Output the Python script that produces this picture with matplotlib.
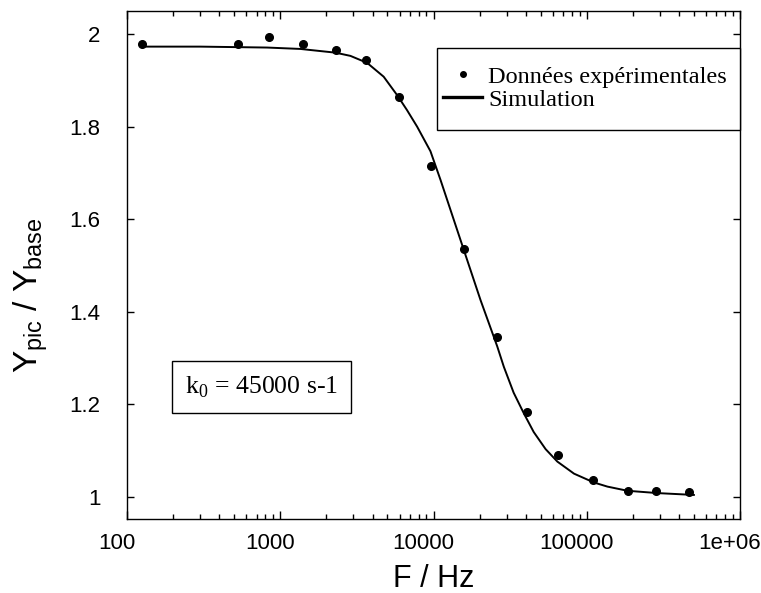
#!/usr/bin/env python3
"""Peak/base ratio versus frequency, measured points and simulated curve."""

import matplotlib
matplotlib.use("Agg")
import matplotlib.pyplot as plt
import matplotlib.transforms as mtransforms
from matplotlib.lines import Line2D
from matplotlib.patches import Rectangle
from matplotlib.ticker import LogLocator, FixedLocator, FuncFormatter

# measured points (F in Hz, Ypic / Ybase)
freq_exp = [125, 528, 843, 1400, 2320, 3630, 5930, 9660, 15800, 25800,
            40900, 64600, 110600, 184500, 283600, 464000]
ratio_exp = [1.978, 1.978, 1.993, 1.978, 1.966, 1.944, 1.865, 1.715, 1.536,
             1.346, 1.184, 1.091, 1.037, 1.013, 1.013, 1.011]

# simulated curve
freq_sim = [125, 300, 822, 1352, 2287, 2870, 3685, 4730, 5794, 6710, 7820,
            9550, 11110, 15790, 20280, 26060, 28770, 33340, 38900, 45070,
            53900, 64330, 82600, 111200, 136500, 184500, 289700, 500000]
ratio_sim = [1.973, 1.973, 1.971, 1.968, 1.960, 1.953, 1.938, 1.908, 1.868,
             1.836, 1.800, 1.747, 1.685, 1.533, 1.425, 1.325, 1.281, 1.225,
             1.180, 1.140, 1.103, 1.076, 1.050, 1.031, 1.022, 1.013, 1.008,
             1.004]

y_ticks = [1.0, 1.2, 1.4, 1.6, 1.8, 2.0]
y_labels = ["1", "1.2", "1.4", "1.6", "1.8", "2"]
x_labels = {100: "100", 1000: "1000", 10000: "10000", 100000: "100000", 1000000: "1e+06"}

SANS = "Liberation Sans"
SERIF = "Liberation Serif"

plt.rcParams.update({
    "font.family": SANS,
    "axes.linewidth": 1.0,
})

fig = plt.figure(figsize=(7.61, 5.93), dpi=100)
ax = fig.add_axes([127 / 761, 74 / 593, 613 / 761, 508 / 593])

ax.plot(freq_sim, ratio_sim, color="black", lw=1.4, zorder=2)
ax.plot(freq_exp, ratio_exp, "o", color="black", ms=5.5, mec="black", zorder=3)

ax.set_xscale("log")
ax.set_xlim(100, 1e6)
ax.set_ylim(0.952, 2.05)

ax.xaxis.set_major_locator(LogLocator(base=10, numticks=10))
ax.xaxis.set_minor_locator(LogLocator(base=10, subs=range(2, 10), numticks=20))
ax.xaxis.set_major_formatter(FuncFormatter(lambda v, p: x_labels.get(int(round(v)), "")))
ax.xaxis.set_minor_formatter(FuncFormatter(lambda v, p: ""))
ax.yaxis.set_major_locator(FixedLocator(y_ticks))
ax.set_yticklabels(y_labels)

ax.tick_params(axis="both", which="both", direction="in", top=True, right=True,
               labelsize=16, width=1.0)
ax.tick_params(axis="x", which="major", length=6, pad=10)
ax.tick_params(axis="x", which="minor", length=3.5)
ax.tick_params(axis="y", which="major", length=5, pad=19)

# tick labels in the original sit a little left of their ticks
shift = mtransforms.ScaledTranslation(-10 / 100, 0, fig.dpi_scale_trans)
for lab in ax.get_xticklabels():
    lab.set_transform(lab.get_transform() + shift)

ax.set_xlabel("F / Hz", fontsize=22, labelpad=7)
ax.set_ylabel(r"Y$_\mathregular{pic}$ / Y$_\mathregular{base}$", fontsize=24)
ax.yaxis.set_label_coords(-0.125, 0.441)

# legend: own frame, entries placed inside it
ax.add_patch(Rectangle((0.5057, 0.7657), 0.4943, 0.1614, transform=ax.transAxes,
                       fc="white", ec="black", lw=1.0, zorder=4, clip_on=False))
handles = [
    Line2D([], [], ls="none", marker="o", ms=4, color="black"),
    Line2D([], [], color="black", lw=2.4),
]
leg = ax.legend(handles, ["Données expérimentales", "Simulation"],
                loc="center left", bbox_to_anchor=(0.5057, 0.848),
                borderaxespad=0, prop={"family": SERIF, "size": 17.5},
                frameon=False, handlelength=1.6, handletextpad=0.25,
                labelspacing=0.05, borderpad=0.25)
leg.set_zorder(5)

ax.text(0.220, 0.260, r"k$_\mathregular{0}$ = 45000 s-1", transform=ax.transAxes,
        ha="center", va="center", family=SERIF, fontsize=18.5,
        bbox=dict(boxstyle="square,pad=0.5", fc="white", ec="black", lw=1.0))

fig.savefig("out.png", dpi=100)
